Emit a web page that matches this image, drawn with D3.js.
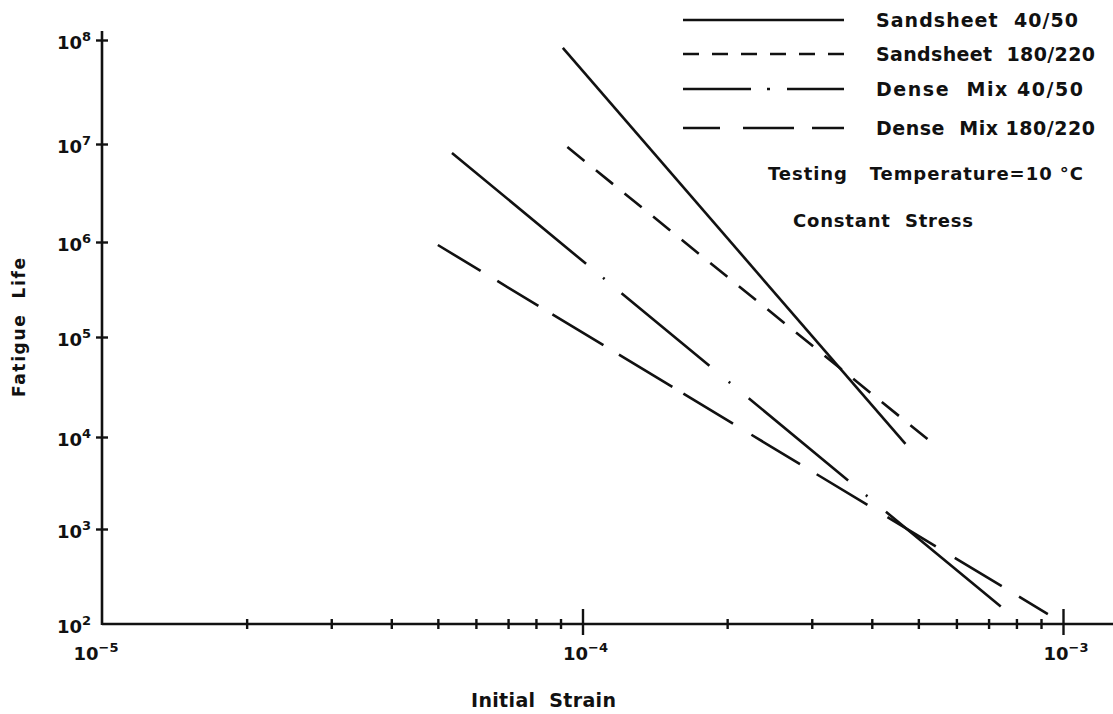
<!DOCTYPE html>
<html>
<head>
<meta charset="UTF-8">
<title>Fatigue life vs initial strain</title>
<script src="https://cdn.jsdelivr.net/npm/d3@7"></script>
<style>
  body, html { margin:0; padding:0; background:#fff; }
  svg text { font-family: "DejaVu Sans", sans-serif; fill:#111; }
  .series { fill:none; stroke:#111; stroke-width:2.6; }
  .axis line { stroke:#111; stroke-width:2.4; }
  .axisline { stroke:#111; stroke-width:2.6; }
</style>
</head>
<body>
<div id="chart"></div>
<script>
// series names, in legend order
var seriesNames = ["Sandsheet 40/50", "Sandsheet 180/220", "Dense Mix 40/50", "Dense Mix 180/220"];

// end points of each fitted line: [initial strain, fatigue life]
var sandsheet4050  = [[9.1e-5, 8.4e7], [4.7e-4, 8.4e3]];
var sandsheet180   = [[9.3e-5, 9.3e6], [5.25e-4, 9.3e3]];
var denseMix4050   = [[5.35e-5, 8.1e6], [7.45e-4, 150]];
var denseMix180    = [[5.0e-5, 9.3e5], [9.3e-4, 127]];

// axis ticks
var xMajor = [1e-5, 1e-4, 1e-3];
var xMajorLabels = ["\u22125", "\u22124", "\u22123"];
var xMinor = [2e-5, 3e-5, 4e-5, 5e-5, 6e-5, 7e-5, 8e-5, 9e-5,
              2e-4, 3e-4, 4e-4, 5e-4, 6e-4, 7e-4, 8e-4, 9e-4];
var yMajor = [1e2, 1e3, 1e4, 1e5, 1e6, 1e7, 1e8];
var yMajorLabels = ["2", "3", "4", "5", "6", "7", "8"];

var notes = ["Testing   Temperature=10 \u00B0C", "Constant  Stress"];
var xTitle = "Initial  Strain", yTitle = "Fatigue  Life";

var W = 1113, H = 714;
var svg = d3.select("#chart").append("svg").attr("width", W).attr("height", H);

// the drawn decades are not quite even on the original sheet, so the
// y scale is piecewise per decade
var x = d3.scaleLog().domain([1e-5, 1e-3]).range([102, 1063]);
var y = d3.scaleLog().domain(yMajor).range([624, 529, 437, 337, 242, 144, 40]);

// axis lines
svg.append("line").attr("class", "axisline")
   .attr("x1", x(1e-5)).attr("x2", W).attr("y1", y(1e2)).attr("y2", y(1e2));
svg.append("line").attr("class", "axisline")
   .attr("x1", x(1e-5)).attr("x2", x(1e-5)).attr("y1", y(1e2) + 1).attr("y2", 31);

// x minor ticks
var gxMinor = svg.append("g").attr("class", "axis")
   .attr("transform", "translate(0," + y(1e2) + ")")
   .call(d3.axisBottom(x).tickValues(xMinor).tickSizeOuter(0).tickFormat(""));
gxMinor.select(".domain").remove();
gxMinor.selectAll(".tick line").attr("y1", -5).attr("y2", 5);

// x major ticks
var gxMajor = svg.append("g").attr("class", "axis")
   .attr("transform", "translate(0," + y(1e2) + ")")
   .call(d3.axisBottom(x).tickValues(xMajor.slice(1)).tickSizeOuter(0).tickFormat(""));
gxMajor.select(".domain").remove();
gxMajor.selectAll(".tick line").attr("y1", -15).attr("y2", 11);

// y ticks
var gy = svg.append("g").attr("class", "axis")
   .attr("transform", "translate(" + x(1e-5) + ",0)")
   .call(d3.axisLeft(y).tickValues(yMajor.slice(1)).tickSizeOuter(0).tickFormat(""));
gy.select(".domain").remove();
gy.selectAll(".tick line").attr("x1", -6).attr("x2", 6);

function powerLabel(sel, exp) {
  sel.append("tspan").text("10");
  sel.append("tspan").attr("dy", -8).attr("font-size", 13).text(exp);
}

// tick labels
xMajor.forEach(function(v, i) {
  var t = svg.append("text").attr("x", x(v) + (i === 0 ? -6 : 3)).attr("y", 660)
     .attr("text-anchor", "middle").attr("font-size", 18).attr("font-weight", "bold");
  powerLabel(t, xMajorLabels[i]);
});
yMajor.forEach(function(v, i) {
  var t = svg.append("text").attr("x", 91).attr("y", y(v) + 9)
     .attr("text-anchor", "end").attr("font-size", 18).attr("font-weight", "bold");
  powerLabel(t, yMajorLabels[i]);
});

// axis titles
svg.append("text").attr("x", 471).attr("y", 707).attr("font-size", 19)
   .attr("font-weight", "bold").attr("textLength", 145).attr("lengthAdjust", "spacing")
   .attr("xml:space", "preserve").text(xTitle);
svg.append("text").attr("transform", "translate(25,397) rotate(-90)")
   .attr("font-size", 17).attr("font-weight", "bold")
   .attr("textLength", 139).attr("lengthAdjust", "spacing")
   .attr("xml:space", "preserve").text(yTitle);

// series
var line = d3.line().x(function(d) { return x(d[0]); }).y(function(d) { return y(d[1]); });
var seriesData = [sandsheet4050, sandsheet180, denseMix4050, denseMix180];
var chartDash = [
  null,
  "22,14.8",
  "174,22,2,22,114,25,2,24,129,23,2,24,149",
  "50,19.5,48,16.4,59.6,18.2,62.4,12.9,58,21.5,56.8,19.5,59.3,23.4,56.5,22.2,54.9,20.2,34"
];
var legendDash = [null, "16,13", "68,16,3,17,60", "37,23,51,18,40"];

svg.selectAll("path.series").data(seriesData).enter().append("path")
   .attr("class", "series")
   .attr("d", line)
   .attr("stroke-dasharray", function(d, i) { return chartDash[i]; });

// legend
var legendY = [20, 54, 89, 128];
var legendW = [202, 219, 207, 219];
var lg = svg.append("g").selectAll("g").data(seriesNames).enter().append("g")
   .attr("transform", function(d, i) { return "translate(0," + legendY[i] + ")"; });
lg.append("line").attr("class", "series")
   .attr("x1", 683).attr("x2", 844).attr("y1", 0).attr("y2", 0)
   .attr("stroke-dasharray", function(d, i) { return legendDash[i]; });
lg.append("text").attr("x", 876).attr("y", 7).attr("font-size", 19)
   .attr("font-weight", "bold")
   .attr("textLength", function(d, i) { return legendW[i]; }).attr("lengthAdjust", "spacing")
   .attr("xml:space", "preserve")
   .text(function(d) { return d.replace(" ", "  "); });

// notes
svg.append("text").attr("x", 768).attr("y", 180).attr("font-size", 18)
   .attr("font-weight", "bold").attr("textLength", 315).attr("lengthAdjust", "spacing")
   .attr("xml:space", "preserve").text(notes[0]);
svg.append("text").attr("x", 793).attr("y", 227).attr("font-size", 18)
   .attr("font-weight", "bold").attr("textLength", 180).attr("lengthAdjust", "spacing")
   .attr("xml:space", "preserve").text(notes[1]);
</script>
</body>
</html>
